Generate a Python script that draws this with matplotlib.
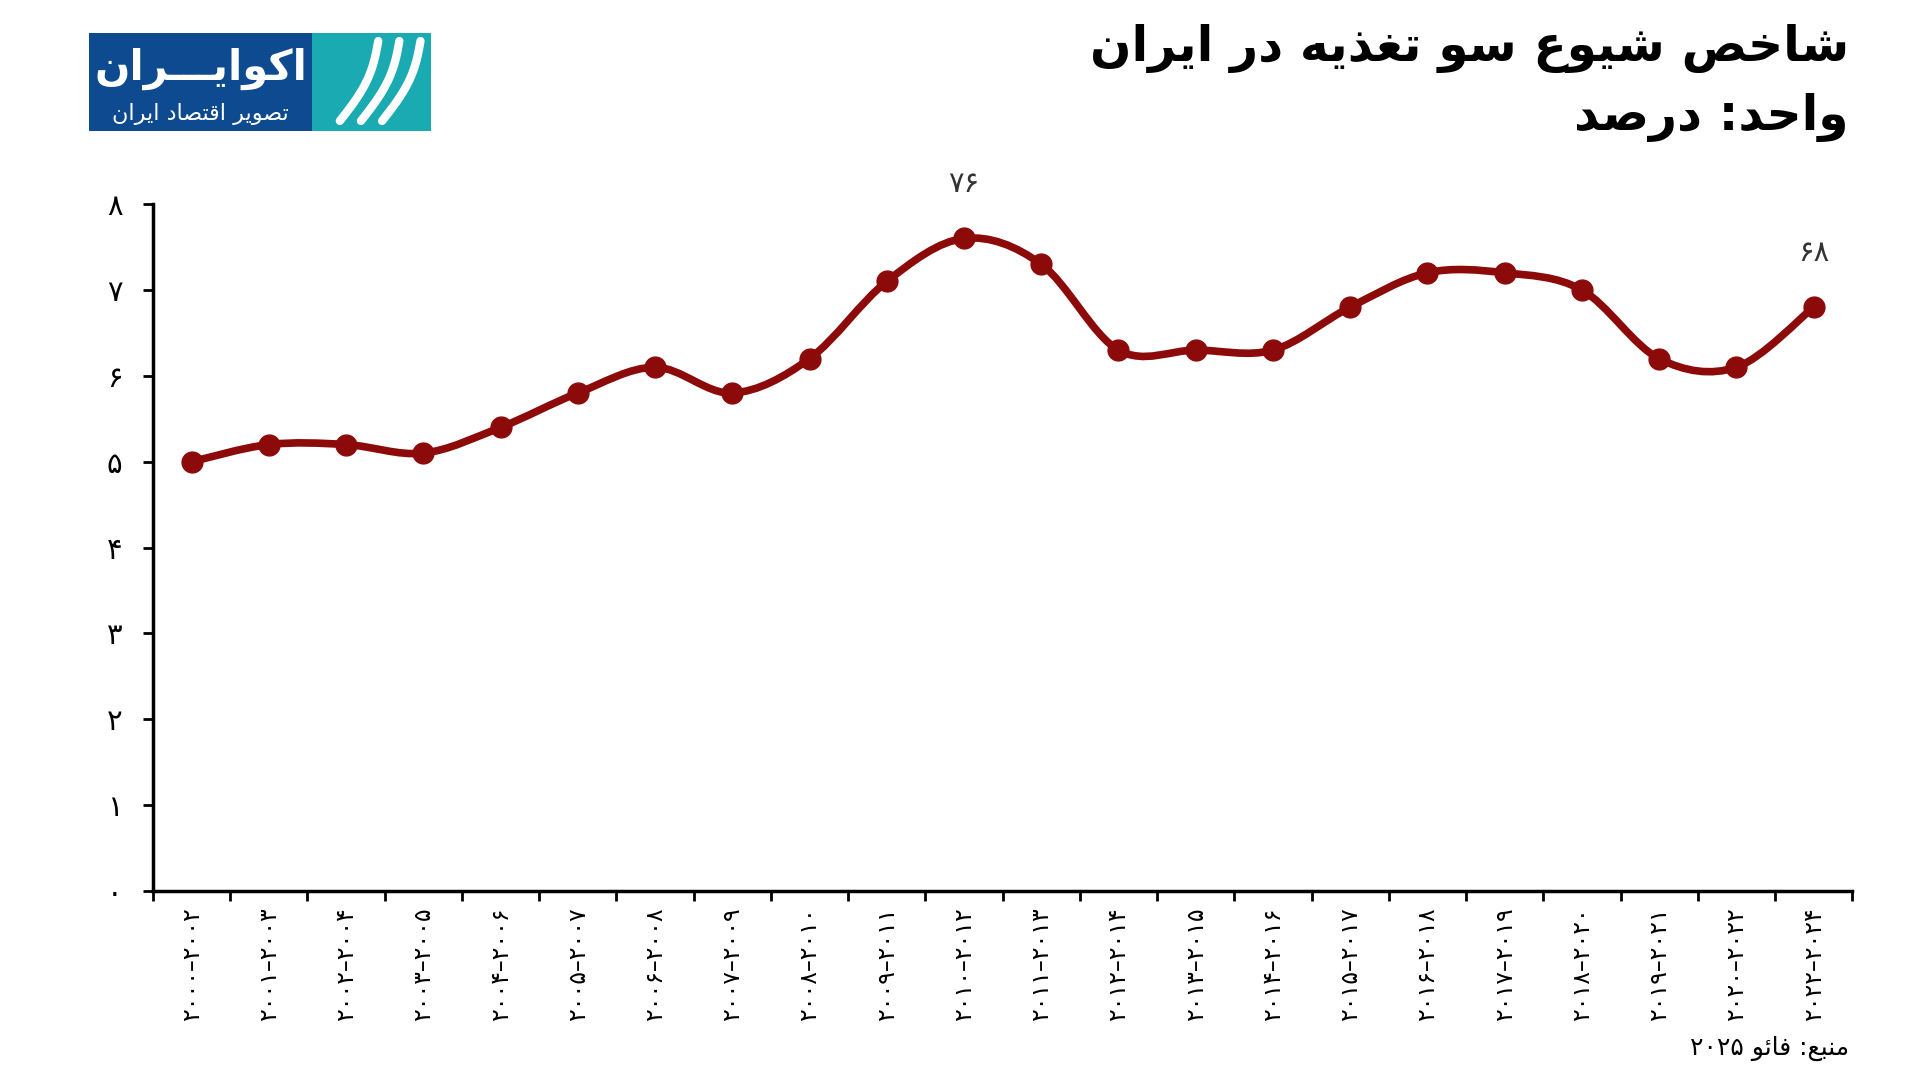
import matplotlib
matplotlib.use("Agg")
import matplotlib.pyplot as plt
from matplotlib.path import Path
from matplotlib.patches import PathPatch, Rectangle
import numpy as np

# --- data ---
periods = ["۲۰۰۰–۲۰۰۲", "۲۰۰۱–۲۰۰۳", "۲۰۰۲–۲۰۰۴", "۲۰۰۳–۲۰۰۵", "۲۰۰۴–۲۰۰۶",
           "۲۰۰۵–۲۰۰۷", "۲۰۰۶–۲۰۰۸", "۲۰۰۷–۲۰۰۹", "۲۰۰۸–۲۰۱۰", "۲۰۰۹–۲۰۱۱",
           "۲۰۱۰–۲۰۱۲", "۲۰۱۱–۲۰۱۳", "۲۰۱۲–۲۰۱۴", "۲۰۱۳–۲۰۱۵", "۲۰۱۴–۲۰۱۶",
           "۲۰۱۵–۲۰۱۷", "۲۰۱۶–۲۰۱۸", "۲۰۱۷–۲۰۱۹", "۲۰۱۸–۲۰۲۰", "۲۰۱۹–۲۰۲۱",
           "۲۰۲۰–۲۰۲۲", "۲۰۲۲–۲۰۲۴"]
values = [5.0, 5.2, 5.2, 5.1, 5.4, 5.8, 6.1, 5.8, 6.2, 7.1, 7.6,
          7.3, 6.3, 6.3, 6.3, 6.8, 7.2, 7.2, 7.0, 6.2, 6.1, 6.8]
ytick_vals = [0, 1, 2, 3, 4, 5, 6, 7, 8]
ytick_labels = ["۰", "۱", "۲", "۳", "۴", "۵", "۶", "۷", "۸"]
annotations = {10: "۷۶", 21: "۶۸"}

title1 = "شاخص شیوع سو تغذیه در ایران"
title2 = "واحد: درصد"
source = "منبع: فائو ۲۰۲۵"
logo_big = "اکوایـــران"
logo_small = "تصویر اقتصاد ایران"

LINE = "#8c0a0a"

# --- crude arabic shaping (matplotlib has no complex text layout) ---
FORMS = {
    "ا": (0xFE8D, 0xFE8E), "د": (0xFEA9, 0xFEAA), "ذ": (0xFEAB, 0xFEAC),
    "ر": (0xFEAD, 0xFEAE), "ز": (0xFEAF, 0xFEB0), "و": (0xFEED, 0xFEEE),
    "ب": (0xFE8F, 0xFE90, 0xFE91, 0xFE92), "ت": (0xFE95, 0xFE96, 0xFE97, 0xFE98),
    "ج": (0xFE9D, 0xFE9E, 0xFE9F, 0xFEA0), "ح": (0xFEA1, 0xFEA2, 0xFEA3, 0xFEA4),
    "خ": (0xFEA5, 0xFEA6, 0xFEA7, 0xFEA8), "س": (0xFEB1, 0xFEB2, 0xFEB3, 0xFEB4),
    "ش": (0xFEB5, 0xFEB6, 0xFEB7, 0xFEB8), "ص": (0xFEB9, 0xFEBA, 0xFEBB, 0xFEBC),
    "ع": (0xFEC9, 0xFECA, 0xFECB, 0xFECC), "غ": (0xFECD, 0xFECE, 0xFECF, 0xFED0),
    "ف": (0xFED1, 0xFED2, 0xFED3, 0xFED4), "ق": (0xFED5, 0xFED6, 0xFED7, 0xFED8),
    "ل": (0xFEDD, 0xFEDE, 0xFEDF, 0xFEE0), "م": (0xFEE1, 0xFEE2, 0xFEE3, 0xFEE4),
    "ن": (0xFEE5, 0xFEE6, 0xFEE7, 0xFEE8), "ه": (0xFEE9, 0xFEEA, 0xFEEB, 0xFEEC),
    "ئ": (0xFE89, 0xFE8A, 0xFE8B, 0xFE8C),
    "ی": (0xFEEF, 0xFEF0, 0xFEF3, 0xFEF4), "ک": (0xFED9, 0xFEDA, 0xFEDB, 0xFEDC),
}
TATWEEL = "ـ"


def joins_left(c):
    return c == TATWEEL or (c in FORMS and len(FORMS[c]) == 4)


def joins(c):
    return c == TATWEEL or c in FORMS


def shape(text):
    out = []
    for i, c in enumerate(text):
        if c not in FORMS:
            out.append(c)
            continue
        f = FORMS[c]
        prev = text[i - 1] if i > 0 else ""
        nxt = text[i + 1] if i + 1 < len(text) else ""
        p = joins_left(prev)
        n = len(f) == 4 and joins(nxt)
        if p and n:
            out.append(chr(f[3]))
        elif n:
            out.append(chr(f[2]))
        elif p:
            out.append(chr(f[1]))
        else:
            out.append(chr(f[0]))
    s = "".join(out)
    # visual order: reverse, but keep digit runs left-to-right
    runs, cur, isdig = [], "", None
    for c in s:
        d = c.isdigit()
        if isdig is None or d == isdig:
            cur += c
        else:
            runs.append((cur, isdig))
            cur = c
        isdig = d
    if cur:
        runs.append((cur, isdig))
    return "".join(r if d else r[::-1] for r, d in reversed(runs))


plt.rcParams["font.family"] = ["DejaVu Sans"]

fig = plt.figure(figsize=(19.2, 10.8), dpi=100)
ax = fig.add_axes([0.0797, 0.175, 0.885, 0.636])

x = np.arange(len(values))
y = np.array(values)

# smooth curve (bezier through the points)
verts = [(x[0], y[0])]
codes = [Path.MOVETO]
n = len(x)
for i in range(n - 1):
    p0 = np.array([x[max(i - 1, 0)], y[max(i - 1, 0)]])
    p1 = np.array([x[i], y[i]])
    p2 = np.array([x[i + 1], y[i + 1]])
    p3 = np.array([x[min(i + 2, n - 1)], y[min(i + 2, n - 1)]])
    c1 = p1 + (p2 - p0) / 6
    c2 = p2 - (p3 - p1) / 6
    verts += [tuple(c1), tuple(c2), tuple(p2)]
    codes += [Path.CURVE4] * 3
ax.add_patch(PathPatch(Path(verts, codes), facecolor="none", edgecolor=LINE,
                       lw=5.5, capstyle="round", zorder=3))
ax.plot(x, y, "o", color=LINE, ms=15, zorder=4)

for i, lab in annotations.items():
    ax.annotate(lab, (x[i], y[i]), xytext=(0, 39), textcoords="offset points",
                ha="center", va="center", fontsize=21, color="#333333")

ax.set_xlim(-0.5, n - 0.5)
ax.set_ylim(0, 8)
ax.set_yticks(ytick_vals)
ax.set_yticklabels(ytick_labels, fontsize=21)
ax.set_xticks(np.arange(n + 1) - 0.5)
ax.set_xticklabels([])
ax.set_xticks(x, minor=True)
ax.set_xticklabels(periods, minor=True, rotation=90, fontsize=17)
ax.tick_params(axis="x", which="minor", length=0, pad=12)
ax.tick_params(axis="x", which="major", length=7, width=2)
ax.tick_params(axis="y", length=7, width=2, pad=15)
for s in ["top", "right"]:
    ax.spines[s].set_visible(False)
for s in ["left", "bottom"]:
    ax.spines[s].set_linewidth(2.5)

# titles
fig.text(0.963, 0.955, shape(title1), ha="right", va="center",
         fontsize=35, fontweight="bold")
fig.text(0.963, 0.891, shape(title2), ha="right", va="center",
         fontsize=35, fontweight="bold")
fig.text(0.963, 0.029, shape(source), ha="right", va="center", fontsize=18)

# logo
fig.patches.append(Rectangle((0.0464, 0.879), 0.1162, 0.0907, transform=fig.transFigure,
                             facecolor="#0d4a90", edgecolor="none"))
fig.patches.append(Rectangle((0.1625, 0.879), 0.0620, 0.0907, transform=fig.transFigure,
                             facecolor="#19aab2", edgecolor="none"))
fig.text(0.1045, 0.936, shape(logo_big), ha="center", va="center", color="white",
         fontsize=30, fontweight="bold")
fig.text(0.1045, 0.894, shape(logo_small), ha="center", va="center", color="white",
         fontsize=16)
t = np.linspace(0, 1, 30)
for k in range(3):
    xs = 0.177 + 0.011 * k + 0.02 * t + 0.004 * np.sin(np.pi * t)
    ys = 0.888 + 0.074 * t
    fig.add_artist(plt.Line2D(xs, ys, transform=fig.transFigure,
                              color="white", lw=6, solid_capstyle="round"))

fig.savefig("out.png", dpi=100, facecolor="white")
